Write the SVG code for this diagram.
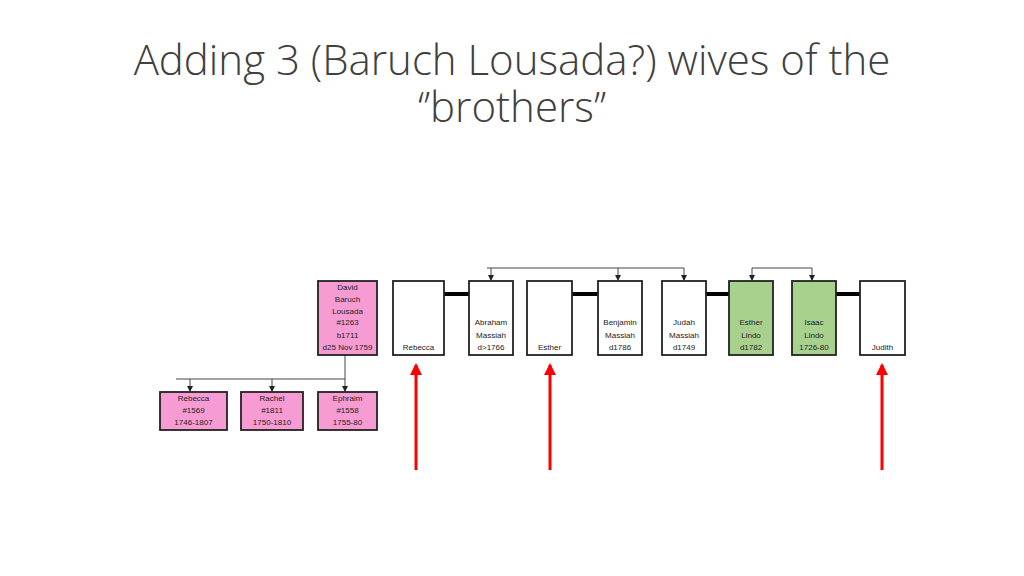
<svg xmlns="http://www.w3.org/2000/svg" width="1024" height="576" viewBox="0 0 1024 576">
<style>
.t{font-family:"Open Sans","Liberation Sans",sans-serif;font-weight:300;font-size:42px;fill:#404040;text-anchor:middle}
.b{stroke:#222;stroke-width:1.8}
.w{fill:#fff}.p{fill:#f79bd3}.g{fill:#a9d18e}
.l{font-family:"Liberation Sans",sans-serif;font-size:8px;fill:#222;text-anchor:middle}
.c{stroke:#444;stroke-width:1;fill:none}
.k{stroke:#000;stroke-width:4}
.r{stroke:#f00;stroke-width:3}
</style>
<defs>
<marker id="a" markerWidth="6" markerHeight="6" refX="5" refY="3" orient="auto" markerUnits="userSpaceOnUse"><path d="M0,0L6,3L0,6z" fill="#222"/></marker>
<marker id="ra" markerWidth="12" markerHeight="12" refX="10" refY="6" orient="auto" markerUnits="userSpaceOnUse"><path d="M0,0L12,6L0,12z" fill="#f00"/></marker>
</defs>
<text class="t" x="512" y="75">Adding 3 (Baruch Lousada?) wives of the</text>
<text class="t" x="512" y="122">‘’brothers’’</text>
<g id="connectors">
<path class="c" d="M487,268H684M812,268H752"/>
<path class="c" d="M491,268V280" marker-end="url(#a)"/>
<path class="c" d="M618,268V280" marker-end="url(#a)"/>
<path class="c" d="M684,268V280" marker-end="url(#a)"/>
<path class="c" d="M752,268V280" marker-end="url(#a)"/>
<path class="c" d="M812,268V280" marker-end="url(#a)"/>
<path class="c" d="M345,355V379H176"/>
<path class="c" d="M190,379V391" marker-end="url(#a)"/>
<path class="c" d="M272,379V391" marker-end="url(#a)"/>
<path class="c" d="M345,379V391" marker-end="url(#a)"/>
<path class="k" d="M444,294H469M572,294H598M706,294H729M836,294H860"/>
<path class="r" d="M416,470V365" marker-end="url(#ra)"/>
<path class="r" d="M550,470V365" marker-end="url(#ra)"/>
<path class="r" d="M882,470V365" marker-end="url(#ra)"/>
</g>
<g id="david"><rect class="b p" x="318" y="281" width="59" height="74"/>
<text class="l" x="347.5" y="290">David</text><text class="l" x="347.5" y="302">Baruch</text><text class="l" x="347.5" y="314">Lousada</text><text class="l" x="347.5" y="325">#1263</text><text class="l" x="347.5" y="338">b1711</text><text class="l" x="347.5" y="350">d25 Nov 1759</text></g>
<g id="rebeccaw"><rect class="b w" x="393" y="281" width="51" height="74"/><text class="l" x="418.5" y="350">Rebecca</text></g>
<g id="abraham"><rect class="b w" x="469" y="281" width="44" height="74"/><text class="l" x="491" y="325">Abraham</text><text class="l" x="491" y="338">Massiah</text><text class="l" x="491" y="350">d&gt;1766</text></g>
<g id="estherw"><rect class="b w" x="527" y="281" width="45" height="74"/><text class="l" x="549.5" y="350">Esther</text></g>
<g id="benjamin"><rect class="b w" x="598" y="281" width="44" height="74"/><text class="l" x="620" y="325">Benjamin</text><text class="l" x="620" y="338">Massiah</text><text class="l" x="620" y="350">d1786</text></g>
<g id="judah"><rect class="b w" x="662" y="281" width="44" height="74"/><text class="l" x="684" y="325">Judah</text><text class="l" x="684" y="338">Massiah</text><text class="l" x="684" y="350">d1749</text></g>
<g id="estherlindo"><rect class="b g" x="729" y="281" width="44" height="74"/><text class="l" x="751" y="325">Esther</text><text class="l" x="751" y="338">Lindo</text><text class="l" x="751" y="350">d1782</text></g>
<g id="isaac"><rect class="b g" x="792" y="281" width="44" height="74"/><text class="l" x="814" y="325">Isaac</text><text class="l" x="814" y="338">Lindo</text><text class="l" x="814" y="350">1726-80</text></g>
<g id="judith"><rect class="b w" x="860" y="281" width="45" height="74"/><text class="l" x="882.5" y="350">Judith</text></g>
<g id="rebecca"><rect class="b p" x="160" y="392" width="67" height="38"/><text class="l" x="193.5" y="401">Rebecca</text><text class="l" x="193.5" y="413">#1569</text><text class="l" x="193.5" y="425">1746-1807</text></g>
<g id="rachel"><rect class="b p" x="241" y="392" width="62" height="38"/><text class="l" x="272" y="401">Rachel</text><text class="l" x="272" y="413">#1811</text><text class="l" x="272" y="425">1750-1810</text></g>
<g id="ephraim"><rect class="b p" x="318" y="392" width="59" height="38"/><text class="l" x="347.5" y="401">Ephraim</text><text class="l" x="347.5" y="413">#1558</text><text class="l" x="347.5" y="425">1755-80</text></g>
</svg>
